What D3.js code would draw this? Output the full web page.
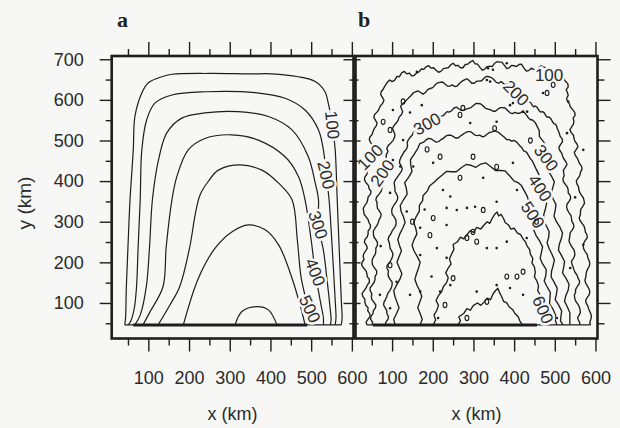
<!DOCTYPE html>
<html>
<head>
<meta charset="utf-8">
<script src="https://cdn.jsdelivr.net/npm/d3@7"></script>
<style>
  body { margin: 0; background: #f7f7f5; }
  svg { display: block; }
</style>
</head>
<body>
<div id="chart"></div>
<script>
// Contour lines, in km (x, y)

// panel a - smooth field
var contourA100 = [[42,46],[44,63],[46,140],[50,239],[55,354],[63,477],[67,559],[84,617],[100,642],[133,657],[158,663],[250,665],[350,664],[403,664],[468,657],[510,645],[534,620],[542,592],[552,538],[559,477],[564,354],[569,230],[574,107],[576,63],[574,46]]
var contourA200 = [[51,46],[58,58],[66,90],[71,140],[75,239],[80,353],[84,477],[96,551],[116,592],[158,612],[239,620],[362,618],[436,604],[485,575],[518,526],[530,477],[537,415],[544,354],[552,230],[559,107],[561,63],[559,46]]
var contourA300 = [[67,46],[80,70],[95,140],[103,239],[110,354],[125,452],[145,518],[182,555],[239,568],[321,571],[395,559],[453,526],[493,460],[510,395],[518,354],[517,292],[530,230],[539,157],[547,83],[549,58],[547,46]]
var contourA400 = [[87,46],[104,78],[136,140],[144,239],[158,354],[170,411],[198,477],[239,505],[305,514],[370,501],[436,460],[469,411],[485,354],[500,255],[510,176],[522,107],[530,63],[530,46]]
var contourA500 = [[124,46],[153,95],[177,140],[202,239],[215,317],[227,366],[247,399],[272,427],[325,440],[379,427],[420,395],[453,354],[466,255],[475,165],[488,107],[497,78],[502,46]]
var contourA600 = [[186,46],[223,161],[264,235],[305,275],[346,292],[387,280],[420,243],[453,161],[477,79],[485,46]]
var contourA700 = [[313,46],[330,79],[367,91],[395,83],[416,46]]

var marginA = [[42,46],[574,46]]
var frontA = [[63,46],[490,46]]

// label value, x, y (km)
var labelsA = [['100',552,538],['200',537,415],['300',517,292],['400',510,176],['500',497,85]]
var labelAnglesA = [84, 77, 72, 68, 65]

// panel b - noisy field
var contourB100 = [[38,46],[36,53],[41,60],[46,67],[45,74],[40,81],[41,88],[35,95],[33,102],[33,109],[28,116],[26,123],[31,130],[36,137],[39,144],[44,151],[44,158],[39,165],[38,172],[36,179],[30,186],[25,193],[26,200],[31,207],[29,214],[30,221],[35,228],[39,235],[37,242],[32,249],[33,256],[39,263],[41,270],[41,277],[46,284],[47,291],[43,298],[41,305],[36,312],[31,319],[30,326],[29,333],[33,340],[38,347],[40,354],[41,361],[47,368],[48,375],[43,382],[42,389],[36,396],[32,403],[33,410],[38,417],[39,424],[42,431],[46,438],[51,445],[50,452],[52,459],[56,466],[57,473],[53,480],[52,487],[48,494],[44,501],[45,508],[51,515],[53,522],[56,529],[61,536],[63,543],[59,550],[55,557],[57,564],[64,571],[68,578],[71,585],[77,592],[80,599],[76,606],[72,613],[73,620],[78,626],[81,632],
  [88,643],[94,649],[100,645],[106,648],[112,658],[118,657],[124,667],[130,670],[136,664],[142,666],[148,659],[154,660],[160,666],[166,669],[172,676],[178,675],[184,682],[190,684],[196,678],[202,679],[208,673],[214,668],[220,670],[226,677],[232,678],[238,679],[244,686],[250,690],[256,684],[262,685],[268,679],[274,679],[280,687],[286,688],[292,693],[298,697],[304,689],[310,688],[316,680],[322,673],[328,676],[334,682],[340,683],[346,682],[352,690],[358,694],[364,693],[370,693],[376,685],[382,677],[388,679],[394,685],[400,684],[406,682],[412,687],[418,688],[424,678],[430,671],[436,672],[442,678],[448,675],[454,673],[460,680],[466,684],[472,681],[478,679],[484,672],[490,666],[496,664],[502,669],[508,667],[513,664],[518,658],
  [526,646],[532,640],[533,632],[528,625],[531,618],[533,611],[529,604],[531,597],[536,590],[538,583],[544,576],[549,569],[550,562],[545,555],[547,548],[546,541],[542,534],[537,527],[540,520],[546,513],[547,506],[549,499],[554,492],[557,485],[553,478],[548,471],[550,464],[555,457],[558,450],[561,443],[566,436],[567,429],[563,422],[562,415],[558,408],[553,401],[554,394],[558,387],[559,380],[561,373],[565,366],[570,359],[572,352],[573,345],[569,338],[564,331],[563,324],[563,317],[560,310],[562,303],[567,296],[572,289],[574,282],[575,275],[579,268],[580,261],[575,254],[571,247],[570,240],[571,233],[575,226],[580,219],[581,212],[584,205],[586,198],[585,191],[581,184],[578,177],[577,170],[576,163],[574,156],[576,149],[580,142],[584,135],[586,128],[585,121],[580,114],[576,107],[577,100],[581,93],[583,86],[586,79],[589,72],[590,65],[588,58],[586,52],[588,46]]
var contourB200 = [[51,46],[52,53],[47,60],[48,67],[53,74],[54,81],[59,88],[60,95],[55,102],[50,109],[49,116],[50,123],[46,130],[46,137],[51,144],[56,151],[58,158],[58,165],[62,172],[62,179],[57,186],[52,193],[51,200],[51,207],[55,214],[59,221],[60,228],[60,235],[64,242],[64,249],[60,256],[55,263],[54,270],[54,277],[58,284],[63,291],[66,298],[68,305],[72,312],[73,319],[69,326],[64,333],[63,340],[63,347],[60,354],[62,361],[68,368],[73,375],[75,382],[76,389],[73,396],[69,403],[71,410],[77,417],[81,424],[83,431],[89,438],[92,445],[89,452],[85,459],[86,466],[90,473],[87,480],[90,487],[97,494],[103,501],[106,508],[107,515],[104,522],[101,529],[104,536],[110,543],[115,550],[117,557],[123,564],[126,571],[123,578],[121,584],[125,590],[130,594],[136,600],
  [146,610],[152,617],[158,620],[164,622],[170,618],[176,614],[182,618],[188,626],[194,628],[200,630],[206,637],[212,642],[218,643],[224,644],[230,639],[236,634],[242,634],[248,637],[254,633],[260,634],[266,641],[272,646],[278,649],[284,652],[290,647],[296,641],[302,641],[308,646],[314,646],[320,647],[326,653],[332,658],[338,657],[344,655],[350,650],[356,643],[362,641],[368,645],[374,640],[379,636],[384,640],[389,638],[394,629],[398,624],[402,622],[406,619],[410,612],[414,608],[419,608],[424,606],[428,598],[432,594],[436,596],[441,593],[445,586],[448,583],[452,585],[457,581],[461,574],[465,570],[470,571],[474,568],[478,561],[482,557],[486,558],[490,554],[494,547],[497,542],[500,541],[504,537],[506,530],
  [511,518],[513,511],[518,504],[519,497],[514,490],[510,483],[512,476],[517,469],[519,462],[522,455],[527,448],[530,441],[526,434],[521,427],[522,420],[523,413],[520,406],[521,399],[526,392],[531,385],[533,378],[533,371],[538,364],[539,357],[535,350],[530,343],[529,336],[531,329],[535,322],[540,315],[541,308],[542,301],[546,294],[547,287],[543,280],[538,273],[537,266],[536,259],[535,252],[538,245],[542,238],[547,231],[549,224],[549,217],[546,210],[541,203],[542,196],[545,189],[547,182],[550,175],[555,168],[557,161],[561,154],[560,147],[555,140],[551,133],[551,126],[548,119],[549,112],[551,105],[556,98],[560,91],[562,84],[563,77],[560,70],[556,64],[558,58],[561,52],[562,46]]
var contourB300 = [[83,46],[85,53],[90,60],[91,67],[87,74],[87,81],[83,88],[79,95],[80,102],[84,109],[87,116],[89,123],[94,130],[98,137],[100,144],[100,151],[95,158],[91,165],[90,172],[91,179],[87,186],[88,193],[94,200],[98,207],[101,214],[102,221],[99,228],[95,235],[94,242],[93,249],[90,256],[92,263],[97,270],[100,277],[105,284],[109,291],[110,298],[109,305],[105,312],[100,319],[99,326],[100,333],[104,340],[109,347],[113,354],[114,361],[111,368],[107,375],[107,382],[106,389],[105,396],[108,403],[113,410],[118,417],[123,424],[125,431],[122,438],[118,445],[119,452],[122,459],[126,466],[130,473],[136,480],[138,487],[137,494],[139,500],[143,506],
  [150,514],[152,520],[158,522],[163,527],[166,526],[176,535],[186,541],[198,549],[208,553],[213,559],[220,560],[226,561],[230,566],[235,571],[240,570],[246,573],[252,580],[258,582],[264,578],[270,574],[276,574],[282,577],[288,579],[294,581],[300,586],[306,591],[312,591],[318,590],[324,585],[330,579],[336,577],[342,576],[348,572],[354,572],[360,577],[366,581],[372,581],[378,580],[384,574],[390,568],[396,566],[402,569],[408,567],[414,567],[420,571],[425,569],[430,563],[435,556],[440,551],[444,551],[448,548],[452,544],[456,536],
  [462,524],[462,510],[473,496],[480,482],[478,468],[476,454],[475,440],[483,426],[492,412],[499,398],[495,384],[491,370],[496,356],[503,342],[501,328],[498,314],[504,300],[513,286],[519,272],[516,258],[511,244],[509,230],[517,216],[524,202],[522,188],[519,174],[528,160],[535,146],[533,132],[527,118],[524,104],[531,90],[537,76],[537,62],[537,46]]
var contourB400 = [[107,46],[104,60],[111,74],[117,88],[112,102],[107,116],[104,130],[111,144],[119,158],[124,172],[118,186],[112,200],[117,214],[123,228],[118,242],[114,256],[119,270],[126,284],[132,298],[128,312],[122,326],[120,340],[128,354],[137,368],[135,382],[131,396],[141,410],[149,424],[146,438],[145,452],[154,466],[163,480],[168,492],
  [178,496],[184,502],[190,505],[196,504],[202,500],[208,496],[214,497],[220,502],[226,505],[232,511],[238,513],[244,513],[250,510],[256,506],[262,506],[268,511],[274,515],[280,519],[286,522],[292,522],[298,518],[304,513],[310,512],[316,513],[322,509],[328,511],[334,516],[340,520],[346,521],[352,524],[358,522],[364,518],[370,513],[376,508],[382,502],[388,502],[394,498],[399,500],[404,498],[409,493],[414,487],[419,482],[424,474],[428,473],[432,469],[436,462],[440,455],[444,451],[448,443],
  [454,430],[461,416],[459,402],[458,388],[466,374],[474,360],[480,346],[477,332],[473,318],[472,304],[479,290],[486,276],[485,262],[481,248],[486,234],[493,220],[499,206],[496,192],[492,178],[491,164],[499,150],[506,136],[504,122],[501,108],[510,94],[517,80],[515,66],[514,56],[520,46]]
var contourB500 = [[169,46],[174,60],[169,74],[163,88],[168,102],[173,116],[168,130],[161,144],[156,158],[160,172],[165,186],[169,200],[162,214],[154,228],[149,242],[154,256],[161,270],[158,284],[153,298],[159,312],[167,326],[167,340],[175,352],[176,364],[187,376],[192,388],[204,398],[212,406],
  [222,414],[234,424],[246,423],[258,423],[270,433],[282,441],[294,439],[306,434],[318,442],[330,445],[342,436],[354,426],[366,426],[378,425],[390,412],[400,400],[410,396],[418,389],[426,374],[432,363],
  [436,350],[436,336],[446,322],[453,308],[451,294],[448,280],[454,266],[463,252],[470,238],[467,224],[464,210],[470,196],[479,182],[478,168],[474,154],[481,140],[489,126],[488,112],[487,98],[496,84],[502,70],[501,58],[505,46]]
var contourB600 = [[201,46],[207,58],[203,70],[210,82],[214,94],[208,106],[214,118],[222,128],[226,140],[234,150],[238,162],[232,174],[238,186],[245,196],[241,208],[246,220],[252,232],[250,244],[260,250],[268,262],[276,258],[284,268],[292,278],[300,274],[308,286],[318,282],[326,292],[334,300],[340,296],[346,308],[352,318],[358,324],[362,314],[368,318],[374,308],[378,298],[386,292],[392,282],[400,284],[408,272],[416,268],[422,258],[428,250],[432,240],[438,232],[440,220],[446,210],[444,198],[450,188],[452,176],[450,164],[456,154],[460,142],[458,130],[464,120],[468,108],[466,96],[471,84],[470,72],[473,60],[469,46]]
var contourB700 = [[262,46],[268,56],[264,66],[276,74],[284,86],[292,82],[300,94],[310,100],[318,94],[326,102],[334,112],[342,108],[348,122],[354,130],[360,136],[364,126],[370,114],[374,104],[382,100],[388,90],[396,84],[402,74],[410,66],[414,56],[420,46]]

var marginB = [[38,46],[588,46]]
var frontB = [[53,46],[456,46]]

// small closed contours and specks in panel b (km)
var loopsB = [[127,596],[78,546],[95,526],[267,563],[274,580],[496,637],[481,617],[357,435],[299,460],[218,460],[267,408],[324,329],[284,260],[308,251],[299,275],[193,267],[250,161],[382,165],[407,165],[422,177],[333,103],[95,193],[230,95],[284,63],[201,309],[352,530],[186,478],[440,500],[455,300],[150,300]]
var dotsB = [[161,669],[336,678],[348,674],[382,690],[333,649],[341,645],[102,575],[144,569],[173,587],[127,501],[292,543],[357,546],[390,587],[397,592],[422,571],[471,617],[533,596],[530,518],[570,477],[432,571],[201,445],[324,408],[397,445],[152,436],[120,436],[102,452],[95,371],[225,378],[243,362],[407,378],[259,329],[284,334],[304,337],[357,349],[234,292],[333,235],[357,235],[382,251],[431,260],[169,218],[210,235],[234,211],[197,165],[357,144],[390,137],[422,120],[308,128],[243,144],[218,128],[111,152],[144,120],[169,128],[213,63],[505,63],[570,243],[538,186],[169,285],[234,334],[136,325],[95,87],[72,240],[70,120],[180,330],[550,360]]

var labelsB = [['100',486,661],['200',405,617],['300',186,541],['100',46,459],['200',76,420],['300',479,457],['400',464,383],['500',446,317],['600',471,83]]
var labelAnglesB = [0, 45, -29, -45, -55, 53, 56, 56, 66]

// axes
var xTicks = [100, 200, 300, 400, 500, 600]
var xMinorTicks = [50, 150, 250, 350, 450, 550]
var yTicks = [100, 200, 300, 400, 500, 600, 700]
var yMinorTicks = [50, 150, 250, 350, 450, 550, 650]

var bg = '#f7f7f5'
var ink = '#1e1e1e'
var sans = "'Liberation Sans', Arial, sans-serif"

var svg = d3
  .select('#chart')
  .append('svg')
  .attr('width', 620)
  .attr('height', 428)

svg.append('rect').attr('width', 620).attr('height', 428).attr('fill', bg)

var plotTop = 56
var plotBottom = 338.5

var yPositionScale = d3.scaleLinear().domain([12.5, 708]).range([plotBottom, plotTop])
var xPositionScaleA = d3.scaleLinear().domain([10, 604]).range([111.7, 353.5])
var xPositionScaleB = d3.scaleLinear().domain([10, 605]).range([355.5, 597.5])

function drawPanel(xScale, lines, curve, margin, front, labels, angles, width) {
  var g = svg.append('g')

  var line = d3
    .line()
    .x(d => xScale(d[0]))
    .y(d => yPositionScale(d[1]))
    .curve(curve)

  g.append('path')
    .attr('d', line(margin))
    .attr('fill', 'none')
    .attr('stroke', ink)
    .attr('stroke-width', 1.2)

  g.selectAll('.contour')
    .data(lines)
    .enter()
    .append('path')
    .attr('class', 'contour')
    .attr('d', d => line(d))
    .attr('fill', 'none')
    .attr('stroke', ink)
    .attr('stroke-width', width)
    .attr('stroke-linejoin', 'round')

  g.append('path')
    .attr('d', line(front))
    .attr('fill', 'none')
    .attr('stroke', ink)
    .attr('stroke-width', 3)

  g.selectAll('.clabel')
    .data(labels)
    .enter()
    .append('text')
    .attr('class', 'clabel')
    .attr('transform', (d, i) => 'translate(' + xScale(d[1]) + ',' + yPositionScale(d[2]) + ') rotate(' + angles[i] + ')')
    .attr('text-anchor', 'middle')
    .attr('dy', '0.35em')
    .attr('font-family', sans)
    .attr('font-size', 17)
    .attr('fill', '#2a2a2a')
    .attr('stroke', bg)
    .attr('stroke-width', 5)
    .attr('paint-order', 'stroke')
    .text(d => d[0])

  return g
}

drawPanel(
  xPositionScaleA,
  [contourA100, contourA200, contourA300, contourA400, contourA500, contourA600, contourA700],
  d3.curveCatmullRom.alpha(0.5),
  marginA,
  frontA,
  labelsA,
  labelAnglesA,
  1.2
)

var gB = drawPanel(
  xPositionScaleB,
  [contourB100, contourB200, contourB300, contourB400, contourB500, contourB600, contourB700],
  d3.curveLinear,
  marginB,
  frontB,
  labelsB,
  labelAnglesB,
  1.35
)

gB.selectAll('.loop')
  .data(loopsB)
  .enter()
  .append('ellipse')
  .attr('cx', d => xPositionScaleB(d[0]))
  .attr('cy', d => yPositionScale(d[1]))
  .attr('rx', 1.9)
  .attr('ry', 2.6)
  .attr('fill', 'none')
  .attr('stroke', ink)
  .attr('stroke-width', 1.1)

gB.selectAll('.dot')
  .data(dotsB)
  .enter()
  .append('circle')
  .attr('cx', d => xPositionScaleB(d[0]))
  .attr('cy', d => yPositionScale(d[1]))
  .attr('r', 1.3)
  .attr('fill', ink)

// ticks

function drawTicks(tx, ty, axis, values, size, padding, showLabels) {
  var g = svg.append('g').attr('transform', 'translate(' + tx + ',' + ty + ')')
  g.call(
    axis
      .tickValues(values)
      .tickSize(size)
      .tickPadding(padding)
      .tickFormat(showLabels ? d3.format('d') : '')
  )
  g.select('.domain').remove()
  g.selectAll('.tick line').attr('stroke', ink).attr('stroke-width', 1.4)
  g.attr('font-size', 18).attr('font-family', sans)
  g.selectAll('.tick text').attr('fill', '#2a2a2a')
}

;[xPositionScaleA, xPositionScaleB].forEach(function(xs) {
  drawTicks(0, plotTop, d3.axisTop(xs), xMinorTicks, 7, 0, false)
  drawTicks(0, plotTop, d3.axisTop(xs), xTicks, 14, 0, false)
  drawTicks(0, plotBottom, d3.axisBottom(xs), xMinorTicks, 7, 0, false)
  drawTicks(0, plotBottom, d3.axisBottom(xs), xTicks, 13, 20, true)
})

drawTicks(111.7, 0, d3.axisLeft(yPositionScale), yMinorTicks, 6, 0, false)
drawTicks(111.7, 0, d3.axisLeft(yPositionScale), yTicks, 12, 16, true)
drawTicks(353.5, 0, d3.axisRight(yPositionScale), yMinorTicks, 5, 0, false)
drawTicks(353.5, 0, d3.axisRight(yPositionScale), yTicks, 7, 0, false)
drawTicks(355.5, 0, d3.axisLeft(yPositionScale), yMinorTicks, 6, 0, false)
drawTicks(355.5, 0, d3.axisLeft(yPositionScale), yTicks, 12, 0, false)
drawTicks(597.5, 0, d3.axisRight(yPositionScale), yMinorTicks, 7, 0, false)
drawTicks(597.5, 0, d3.axisRight(yPositionScale), yTicks, 13, 0, false)

// frames
;[xPositionScaleA, xPositionScaleB].forEach(function(xs) {
  svg
    .append('rect')
    .attr('x', xs.range()[0])
    .attr('y', plotTop)
    .attr('width', xs.range()[1] - xs.range()[0])
    .attr('height', plotBottom - plotTop)
    .attr('fill', 'none')
    .attr('stroke', ink)
    .attr('stroke-width', 2.6)
})

// titles
svg
  .append('text')
  .text('a')
  .attr('x', 117)
  .attr('y', 27)
  .attr('font-family', "'Liberation Serif', serif")
  .attr('font-weight', 'bold')
  .attr('font-size', 22)
  .attr('fill', '#222')

svg
  .append('text')
  .text('b')
  .attr('x', 358)
  .attr('y', 27)
  .attr('font-family', "'Liberation Serif', serif")
  .attr('font-weight', 'bold')
  .attr('font-size', 22)
  .attr('fill', '#222')

;[xPositionScaleA, xPositionScaleB].forEach(function(xs) {
  svg
    .append('text')
    .text('x (km)')
    .attr('x', (xs.range()[0] + xs.range()[1]) / 2)
    .attr('y', 420)
    .attr('text-anchor', 'middle')
    .attr('font-family', sans)
    .attr('font-size', 18)
    .attr('fill', '#2a2a2a')
})

svg
  .append('text')
  .text('y (km)')
  .attr('transform', 'translate(31,203) rotate(-90)')
  .attr('text-anchor', 'middle')
  .attr('font-family', sans)
  .attr('font-size', 19)
  .attr('fill', '#2a2a2a')
</script>
</body>
</html>
